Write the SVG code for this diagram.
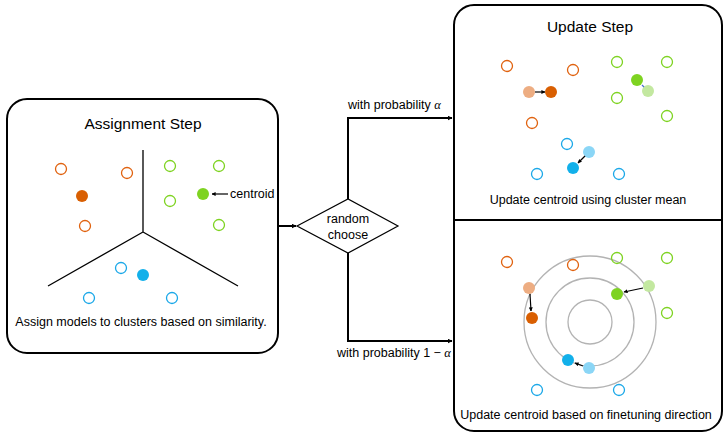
<svg xmlns="http://www.w3.org/2000/svg" width="723" height="432" viewBox="0 0 723 432">
<defs>
<marker id="ah" viewBox="0 0 10 10" refX="9" refY="5" markerWidth="5" markerHeight="5" orient="auto-start-reverse" markerUnits="userSpaceOnUse"><path d="M0,0 L10,5 L0,10 z" fill="#000"/></marker>
<marker id="ahs" viewBox="0 0 10 10" refX="9" refY="5" markerWidth="4" markerHeight="4" orient="auto" markerUnits="userSpaceOnUse"><path d="M0,0 L10,5 L0,10 z" fill="#000"/></marker>
<style>
.box{fill:#fff;stroke:#000;stroke-width:2}
.t{font-family:"Liberation Sans",Arial,sans-serif;fill:#000}
.title{font-size:15.5px;text-anchor:middle}
.cap{font-size:12.5px;text-anchor:middle}
.lbl{font-size:12.5px}
.oh{fill:none;stroke:#E0620F;stroke-width:1.3}
.gh{fill:none;stroke:#7ED321;stroke-width:1.3}
.bh{fill:none;stroke:#1BA8E8;stroke-width:1.3}
.of{fill:#D95F02}
.gf{fill:#7ED321}
.bf{fill:#12B0EA}
.ol{fill:#EDAD82}
.gl{fill:#C3E8A0}
.bl{fill:#8BD6F6}
.ring{fill:none;stroke:#B3B3B3;stroke-width:1.3}
.conn{fill:none;stroke:#000;stroke-width:2}
.small{fill:none;stroke:#000;stroke-width:1.2}
</style>
</defs>

<g id="assignment">
<rect class="box" x="7" y="99" width="271" height="254" rx="20"/>
<text class="t title" x="143" y="129">Assignment Step</text>
<path d="M143,150 V232 M143,232 L48,286 M143,232 L238,286" fill="none" stroke="#000" stroke-width="1.3"/>
<circle class="oh" cx="61" cy="169" r="5.5"/>
<circle class="oh" cx="127" cy="173" r="5.5"/>
<circle class="oh" cx="85" cy="226" r="5.5"/>
<circle class="of" cx="82" cy="196" r="6"/>
<circle class="gh" cx="170" cy="166" r="5.5"/>
<circle class="gh" cx="219" cy="166" r="5.5"/>
<circle class="gh" cx="170" cy="201" r="5.5"/>
<circle class="gh" cx="219" cy="225" r="5.5"/>
<circle class="gf" cx="203" cy="194" r="6"/>
<line class="small" x1="228" y1="194" x2="212" y2="194" marker-end="url(#ahs)"/>
<text class="t lbl" x="230" y="198">centroid</text>
<circle class="bh" cx="121" cy="268" r="5.5"/>
<circle class="bh" cx="89" cy="298" r="5.5"/>
<circle class="bh" cx="172" cy="298" r="5.5"/>
<circle class="bf" cx="143" cy="275" r="6"/>
<text class="t cap" x="141" y="326">Assign models to clusters based on similarity.</text>
</g>

<g id="random-choose">
<polygon points="297,226 348,199 398,226 348,253" fill="#fff" stroke="#000" stroke-width="1.2"/>
<text class="t cap" x="348" y="223">random</text>
<text class="t cap" x="348" y="239">choose</text>
</g>

<g id="update-right">
<path class="box" d="M474,5 H702 A20,20 0 0 1 722,25 V411 A20,20 0 0 1 702,431 H474 A20,20 0 0 1 454,411 V25 A20,20 0 0 1 474,5 Z"/>
<line x1="454" y1="220" x2="722" y2="220" stroke="#000" stroke-width="2"/>
</g>

<g id="update-step">
<text class="t title" x="590" y="32">Update Step</text>
<circle class="oh" cx="507" cy="66" r="5.5"/>
<circle class="oh" cx="573" cy="70" r="5.5"/>
<circle class="oh" cx="532" cy="123" r="5.5"/>
<circle class="ol" cx="529" cy="92" r="6"/>
<circle class="of" cx="551" cy="92" r="6"/>
<line class="small" x1="535" y1="92" x2="545" y2="92" marker-end="url(#ahs)"/>
<circle class="gh" cx="617" cy="62" r="5.5"/>
<circle class="gh" cx="667" cy="62" r="5.5"/>
<circle class="gh" cx="617" cy="98" r="5.5"/>
<circle class="gh" cx="667" cy="116" r="5.5"/>
<circle class="gl" cx="648" cy="91" r="6"/>
<circle class="gf" cx="637" cy="80" r="6"/>
<line x1="642" y1="85" x2="644" y2="87" stroke="#4A6FD0" stroke-width="1.2"/>
<circle class="bh" cx="567" cy="144" r="5.5"/>
<circle class="bh" cx="537" cy="174" r="5.5"/>
<circle class="bh" cx="619" cy="174" r="5.5"/>
<circle class="bl" cx="589" cy="152" r="6"/>
<circle class="bf" cx="573" cy="168" r="6"/>
<line class="small" x1="585" y1="156" x2="578" y2="163" marker-end="url(#ahs)"/>
<text class="t cap" x="588" y="204">Update centroid using cluster mean</text>
</g>

<g id="finetune-step">
<circle class="ring" cx="590" cy="322" r="22"/>
<circle class="ring" cx="590" cy="322" r="44"/>
<circle class="ring" cx="590" cy="322" r="66"/>
<circle class="oh" cx="507" cy="262" r="5.5"/>
<circle class="oh" cx="573" cy="265" r="5.5"/>
<circle class="ol" cx="529" cy="288" r="6"/>
<circle class="of" cx="532" cy="318" r="6"/>
<line class="small" x1="530" y1="294" x2="531" y2="311" marker-end="url(#ahs)"/>
<circle class="gh" cx="617" cy="258" r="5.5"/>
<circle class="gh" cx="667" cy="258" r="5.5"/>
<circle class="gh" cx="667" cy="313" r="5.5"/>
<circle class="gl" cx="649" cy="286" r="6"/>
<circle class="gf" cx="617" cy="294" r="6"/>
<line class="small" x1="643" y1="288" x2="624" y2="292" marker-end="url(#ahs)"/>
<circle class="bh" cx="537" cy="390" r="5.5"/>
<circle class="bh" cx="619" cy="390" r="5.5"/>
<circle class="bf" cx="568" cy="360" r="6"/>
<circle class="bl" cx="589" cy="368" r="6"/>
<line class="small" x1="583" y1="366" x2="575" y2="363" marker-end="url(#ahs)"/>
<text class="t cap" x="586" y="419">Update centroid based on finetuning direction</text>
</g>

<g id="connectors">
<line class="conn" x1="278" y1="226" x2="296" y2="226" marker-end="url(#ah)"/>
<polyline class="conn" points="348,199 348,118 452,118" marker-end="url(#ah)"/>
<polyline class="conn" points="348,253 348,341 452,341" marker-end="url(#ah)"/>
<text class="t lbl" x="348" y="109">with probability <tspan font-family="'Liberation Serif',serif" font-style="italic">α</tspan></text>
<text class="t lbl" x="337" y="357">with probability 1 − <tspan font-family="'Liberation Serif',serif" font-style="italic">α</tspan></text>
</g>
</svg>
